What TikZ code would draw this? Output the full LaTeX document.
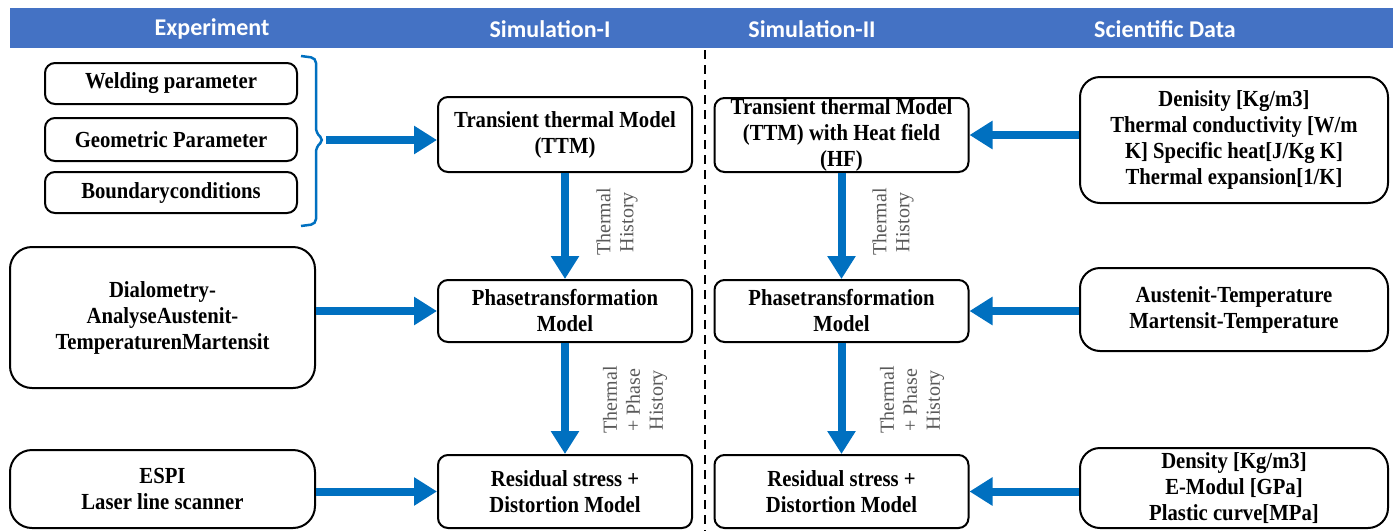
\documentclass[tikz,border=0pt]{standalone}
\usepackage{fontspec}
\setmainfont{Liberation Serif}[BoldFont={Liberation Serif Bold}]
\newfontfamily\boxfont{Liberation Serif}[BoldFont={Liberation Serif Bold},FakeStretch=0.9]
\newfontfamily\headfont{Carlito}
\usetikzlibrary{arrows.meta}

\definecolor{barblue}{HTML}{4472C4}
\definecolor{arrblue}{HTML}{0070C0}
\definecolor{lblgray}{HTML}{595959}

\tikzset{
  box/.style={draw,rounded corners=10pt,line width=2pt,align=center,inner sep=0pt,
    font=\boxfont\fontsize{23}{26}\selectfont\bfseries},
  flow/.style={draw=arrblue,line width=8pt,-{Triangle[length=23pt,width=27pt]}},
  hist/.style={rotate=90,align=center,text=lblgray,font=\fontsize{20}{23}\selectfont},
  head/.style={text=white,font=\headfont\fontsize{24}{28}\selectfont\bfseries}
}

\begin{document}
\begin{tikzpicture}[x=1pt,y=-1pt]

      \useasboundingbox (0,0) rectangle (1393,531);

      % header
      \fill[barblue] (10,8) rectangle (1393,48);
      \begin{scope}[every node/.style={head}]
        \node (hexp)  at (212,29)  {Experiment};
        \node (hsim1) at (550,29)  {Simulation-I};
        \node (hsim2) at (812,29)  {Simulation-II};
        \node (hdata) at (1165,29) {Scientific Data};
      \end{scope}

      \draw[line width=1.5pt,dash pattern=on 9pt off 6pt] (705,50) -- (705,531);

      % experiment
      \begin{scope}[every node/.style={box,minimum width=252pt}]
        \node[minimum height=41pt] (weld)  at (171,83.5)  {Welding parameter};
        \node[minimum height=43pt] (geom)  at (171,139.5) {Geometric Parameter};
        \node[minimum height=41pt] (bound) at (171,192.5) {Boundaryconditions};
      \end{scope}
      \begin{scope}[every node/.style={box,minimum width=305pt,rounded corners=22pt}]
        \node[minimum height=141pt] (dilo) at (162.5,317.5) {Dialometry-\\AnalyseAustenit-\\TemperaturenMartensit};
        \node[minimum height=78pt]  (espi) at (162.5,489)   {ESPI\\Laser line scanner};
      \end{scope}

      \draw[arrblue,line width=2.5pt,rounded corners=5pt]
        (301,56) -- (316,58) -- (316,133) -- (324,140) -- (316,147) -- (316,224) -- (301,226);
      \coordinate (brtip) at (326,140);

      % simulation I and II
      \begin{scope}[every node/.style={box,minimum width=254pt}]
        \node[minimum height=75pt] (ttm)    at (565,134.5)   {Transient thermal Model\\(TTM)};
        \node[minimum height=62pt] (phase)  at (565,311)     {Phasetransformation\\Model};
        \node[minimum height=73pt] (resid)  at (565,491.5)   {Residual stress +\\Distortion Model};
        \node[minimum height=74pt] (ttmhf)  at (841.5,135)   {Transient thermal Model\\(TTM) with Heat field\\(HF)};
        \node[minimum height=62pt] (phase2) at (841.5,311)   {Phasetransformation\\Model};
        \node[minimum height=73pt] (resid2) at (841.5,491.5) {Residual stress +\\Distortion Model};
      \end{scope}

      % scientific data
      \begin{scope}[every node/.style={box,minimum width=308pt,rounded corners=20pt}]
        \node[minimum height=126pt] (prop)  at (1234,140)   {Denisity [Kg/m3]\\Thermal conductivity [W/m\\K] Specific heat[J/Kg K]\\Thermal expansion[1/K]};
        \node[minimum height=83pt]  (aust)  at (1234,309.5) {Austenit-Temperature\\Martensit-Temperature};
        \node[minimum height=80pt]  (dens)  at (1234,488)   {Density [Kg/m3]\\E-Modul [GPa]\\Plastic curve[MPa]};
      \end{scope}

      % history labels
      \node[hist] (th1)  at (617,222) {Thermal\\History};
      \node[hist] (tph1) at (635,400) {Thermal\\+ Phase\\History};
      \node[hist] (th2)  at (893,222) {Thermal\\History};
      \node[hist] (tph2) at (912,400) {Thermal\\+ Phase\\History};

      \begin{scope}[every edge/.style={flow}]
        \path (brtip) edge (brtip -| ttm.west);
        \path (dilo.east |- phase.west) edge (phase.west);
        \path (espi.east |- resid.west) edge (resid.west);
        \path (ttm) edge (phase);
        \path (phase) edge (resid);
        \path (ttmhf) edge (phase2);
        \path (phase2) edge (resid2);
        \path (prop.west |- ttmhf.east) edge (ttmhf.east);
        \path (aust.west |- phase2.east) edge (phase2.east);
        \path (dens.west |- resid2.east) edge (resid2.east);
      \end{scope}

    \end{tikzpicture}
\end{document}
